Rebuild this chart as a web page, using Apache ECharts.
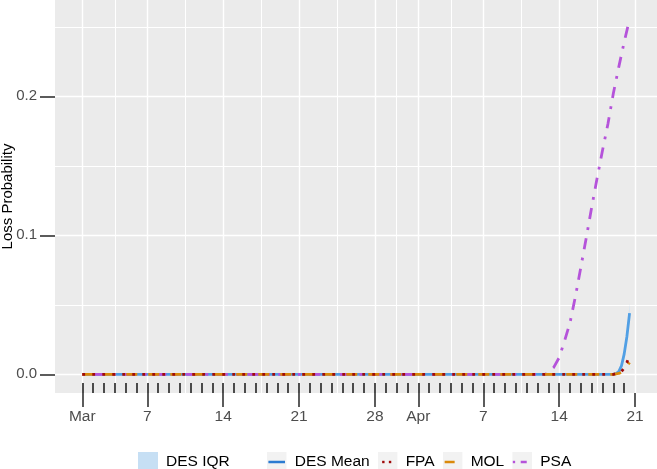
<!DOCTYPE html>
<html>
<head>
<meta charset="utf-8">
<script src="https://cdn.jsdelivr.net/npm/echarts@6/dist/echarts.min.js"></script>
<style>html,body{margin:0;padding:0;background:#fff;}#c{width:657px;height:469px;}</style>
</head>
<body>
<div id="c"></div>
<script>
// ---- Data (x = days since 1 March) ----
const majorDays = [0, 6, 13, 20, 27, 31, 37, 44, 51];
const majorLabels = ['Mar', '7', '14', '21', '28', 'Apr', '7', '14', '21'];
const minorGridDays = [3, 9.5, 16.5, 23.5, 29, 34, 40.5, 47.5];
const firstDailyTick = 0, lastDailyTick = 50;
const yTicks = [0, 0.1, 0.2];
const yMinorGrid = [0.05, 0.15, 0.25];

const iqrDays = [0, 49, 49.5, 50, 50.25, 50.5];
const iqrLow  = [0, 0, 0.0015, 0.012, 0.023, 0.038];
const iqrHigh = [0, 0, 0.003, 0.017, 0.031, 0.051];

const desDays = [0, 49, 49.25, 49.5, 49.75, 50, 50.25, 50.5];
const desMean = [0, 0, 0.0005, 0.002, 0.006, 0.0145, 0.027, 0.044];

const fpaDays = [0, 49, 49.5, 49.75, 50, 50.25, 50.5];
const fpa     = [0, 0, 0.0008, 0.002, 0.0045, 0.0085, 0.0135];

const molDays = [0, 49, 49.5, 49.75, 50, 50.25, 50.5];
const mol     = [0, 0, 0.0006, 0.0015, 0.0033, 0.0058, 0.0085];

const psaDays = [0, 42.75, 43, 43.5, 44, 44.5, 45, 45.5, 46, 46.5, 47, 47.5, 48, 48.5, 49, 49.5, 50, 50.5];
const psa     = [0, 0, 0.0015, 0.005, 0.012, 0.024, 0.037, 0.056, 0.077, 0.098, 0.12, 0.141, 0.161, 0.18, 0.202, 0.221, 0.239, 0.2555];

// ---- Styling ----
const FONT = 'Liberation Sans, Arial, Helvetica, sans-serif';
const C = {iqr:'#C6DFF4', des:'#519FE4', desKey:'#2B7BD1', fpa:'#A00A0A', mol:'#DA8A0B', psa:'#B553DA'};
const LW = 2.8;

function pairs(xs, ys){ return xs.map((x,i)=>[x, ys[i]]); }
function dailyTicks(){ const a=[]; for(let d=firstDailyTick; d<=lastDailyTick; d++) a.push(d); return a; }
function svgIcon(inner){
  const s = "<svg xmlns='http://www.w3.org/2000/svg' width='20' height='20'><rect width='20' height='20' fill='#F2F2F2'/>" + inner + "</svg>";
  return 'image://data:image/svg+xml;charset=utf-8,' + encodeURIComponent(s);
}
const icons = {
  'DES Mean': svgIcon("<line x1='1.7' y1='10' x2='18.3' y2='10' stroke='" + C.desKey + "' stroke-width='2.4'/>"),
  'FPA': svgIcon("<rect x='4.5' y='8.8' width='2.4' height='2.4' fill='" + C.fpa + "'/><rect x='11.2' y='8.8' width='2.4' height='2.4' fill='" + C.fpa + "'/>"),
  'MOL': svgIcon("<line x1='2' y1='10' x2='12' y2='10' stroke='" + C.mol + "' stroke-width='2.4'/>"),
  'PSA': svgIcon("<rect x='0.5' y='8.8' width='2.4' height='2.4' fill='" + C.psa + "'/><line x1='8.5' y1='10' x2='14.5' y2='10' stroke='" + C.psa + "' stroke-width='2.4'/>")
};

const gridLines = [];
majorDays.forEach(d => gridLines.push({xAxis: d, lineStyle:{color:'#fff', width:1.4, type:'solid'}}));
minorGridDays.forEach(d => gridLines.push({xAxis: d, lineStyle:{color:'#fff', width:1, type:'solid'}}));
yTicks.forEach(v => gridLines.push({yAxis: v, lineStyle:{color:'#fff', width:1.4, type:'solid'}}));
yMinorGrid.forEach(v => gridLines.push({yAxis: v, lineStyle:{color:'#fff', width:1, type:'solid'}}));

const xMin = -2.519, xMax = 53.03;

const chart = echarts.init(document.getElementById('c'), null, {renderer:'canvas'});
chart.setOption({
  animation: false,
  textStyle: {fontFamily: FONT},
  grid: {left:55, right:0, top:0, bottom:76, show:true, backgroundColor:'#EBEBEB', borderWidth:0,
         containLabel:false, outerBoundsMode:'none'},
  xAxis: [
    {type:'value', position:'bottom', min:xMin, max:xMax, axisLine:{show:false, onZero:false}, splitLine:{show:false},
     axisTick:{show:true, customValues:majorDays, length:14, lineStyle:{color:'#333', width:1.6}},
     axisLabel:{show:true, customValues:majorDays, margin:16, fontSize:15.5, color:'#4D4D4D', fontFamily:FONT,
       formatter: v => { const i = majorDays.indexOf(Math.round(v)); return i>=0 ? majorLabels[i] : ''; }}},
    {type:'value', position:'bottom', min:xMin, max:xMax, axisLine:{show:false, onZero:false}, splitLine:{show:false},
     axisTick:{show:true, inside:true, customValues:dailyTicks(), length:10, lineStyle:{color:'#222', width:1.6}},
     axisLabel:{show:false}}
  ],
  yAxis: {type:'value', min:-0.01345, max:0.26928, axisLine:{show:false, onZero:false}, splitLine:{show:false},
    axisTick:{show:true, customValues:yTicks, length:15, lineStyle:{color:'#333', width:1.6}},
    axisLabel:{show:true, customValues:yTicks, margin:18, fontSize:15, color:'#4D4D4D', fontFamily:FONT,
      formatter: v => v.toFixed(1)},
    name:'Loss Probability', nameLocation:'middle', nameRotate:90, nameGap:40, nameMoveOverlap:false,
    nameTextStyle:{fontSize:15, color:'#000', fontFamily:FONT}},
  legend: [
    {left:138, top:452, orient:'horizontal', itemWidth:20, itemHeight:20, itemGap:8, padding:0,
     textStyle:{fontSize:15.5, color:'#000', fontFamily:FONT, padding:[0,0,0,3]},
     data:[{name:'DES IQR', icon:'rect', itemStyle:{color:C.iqr}}]},
    {left:266.7, top:452, orient:'horizontal', itemWidth:20, itemHeight:20, itemGap:8, padding:0,
     textStyle:{fontSize:15.5, color:'#000', fontFamily:FONT, padding:[0,0,0,3]},
     data:['DES Mean','FPA','MOL','PSA'].map(n => ({name:n, icon:icons[n]}))}
  ],
  series: [
    {name:'grid', type:'line', data:[], z:0, silent:true, showSymbol:false,
     markLine:{z:0, silent:true, symbol:['none','none'], label:{show:false}, animation:false, data:gridLines}},
    {name:'DES IQR', type:'custom', z:2, itemStyle:{color:C.iqr}, data:[0],
     renderItem: (params, api) => {
       const pts = [];
       iqrDays.forEach((d,i) => pts.push(api.coord([d, iqrHigh[i]])));
       for (let i = iqrDays.length-1; i >= 0; i--) pts.push(api.coord([iqrDays[i], iqrLow[i]]));
       return {type:'polygon', shape:{points:pts}, style:{fill:C.iqr, opacity:0.85}};
     }},
    {name:'DES Mean', type:'line', z:3, data:pairs(desDays, desMean), showSymbol:false, symbol:'none',
     itemStyle:{color:C.des}, lineStyle:{color:C.des, width:LW}},
    {name:'PSA', type:'line', z:4, data:pairs(psaDays, psa), showSymbol:false, symbol:'none',
     itemStyle:{color:C.psa}, lineStyle:{color:C.psa, width:LW, type:[2.8, 8.4, 11.2, 8.4], cap:'butt'}},
    {name:'MOL', type:'line', z:5, data:pairs(molDays, mol), showSymbol:false, symbol:'none',
     itemStyle:{color:C.mol}, lineStyle:{color:C.mol, width:LW, type:[11, 11], cap:'butt'}},
    {name:'FPA', type:'line', z:6, data:pairs(fpaDays, fpa), showSymbol:false, symbol:'none',
     itemStyle:{color:C.fpa}, lineStyle:{color:C.fpa, width:LW, type:[2.8, 7.2], cap:'butt'}}
  ]
});
</script>
</body>
</html>
